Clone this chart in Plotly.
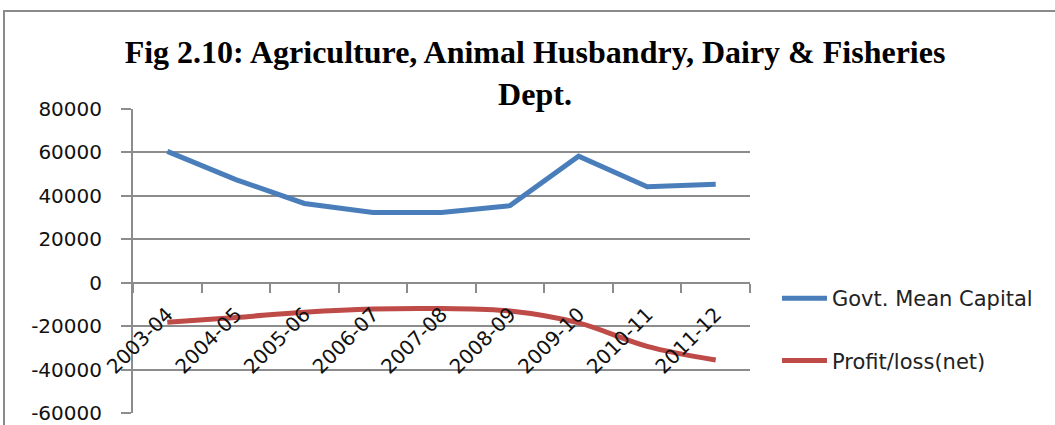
import plotly.graph_objects as go

years = ["2003-04", "2004-05", "2005-06", "2006-07", "2007-08",
         "2008-09", "2009-10", "2010-11", "2011-12"]
govt_mean_capital = [60500, 47500, 36500, 32300, 32300, 35500, 58300, 44200, 45300]
profit_loss_net = [-18200, -16000, -13600, -12100, -11900, -13000, -18500, -29300, -35600]

y_tick_vals = [-60000, -40000, -20000, 0, 20000, 40000, 60000, 80000]
y_tick_text = ["-60000", "-40000", "-20000", "0", "20000", "40000", "60000", "80000"]

title_text = "Fig 2.10: Agriculture, Animal Husbandry, Dairy & Fisheries<br>Dept."

W, H = 1055, 425
L, R, T, B = 133, 305, 109, 12
pw, ph = W - L - R, H - T - B
ymin, ymax = -60000, 80000

def px_x(p):
    return (p - L) / pw

def px_y(p):
    return (H - B - p) / ph

fig = go.Figure()
fig.add_trace(go.Scatter(
    x=years, y=govt_mean_capital, mode="lines", name="Govt. Mean Capital",
    line=dict(color="#4A7EBB", width=5), legendgroup="g1"))
fig.add_trace(go.Scatter(
    x=years, y=profit_loss_net, mode="lines", name="Profit/loss(net)",
    line=dict(color="#BE4B48", width=5, shape="spline", smoothing=1), legendgroup="g2"))

grid = "#8C8C8C"
fig.update_layout(
    width=W, height=H,
    margin=dict(l=L, r=R, t=T, b=B, pad=0, autoexpand=False),
    paper_bgcolor="white", plot_bgcolor="white",
    title=dict(text=title_text, xref="container", yref="container",
               x=535 / W, xanchor="center", y=1 - 63 / H, yanchor="top",
               font=dict(family="Liberation Serif", size=32, color="black", weight=700)),
    xaxis=dict(type="category", range=[-0.5, 8.5], anchor="free", automargin=False,
               position=(0 - ymin) / (ymax - ymin),
               showline=True, linecolor=grid, linewidth=2,
               ticks="outside", tickson="boundaries", ticklen=9, tickwidth=2, tickcolor=grid,
               showgrid=False, tickangle=-45, ticklabelstandoff=11,
               tickfont=dict(family="DejaVu Sans", size=20, color="#111111")),
    yaxis=dict(range=[ymin, ymax], tickvals=y_tick_vals, ticktext=y_tick_text,
               automargin=False,
               showline=True, linecolor=grid, linewidth=2,
               ticks="outside", ticklen=10, tickwidth=2, tickcolor=grid,
               showgrid=True, gridcolor=grid, gridwidth=2, zeroline=False,
               ticklabelstandoff=15,
               tickfont=dict(family="DejaVu Sans", size=20, color="#111111")),
    legend=dict(x=px_x(777), xanchor="left", y=px_y(278), yanchor="top",
                itemwidth=45, tracegroupgap=32, bgcolor="rgba(0,0,0,0)",
                font=dict(family="DejaVu Sans", size=21, color="#222222")),
    shapes=[dict(type="rect", xref="paper", yref="paper",
                 x0=px_x(4), x1=px_x(1062), y0=px_y(432), y1=px_y(11),
                 line=dict(color="#8A8A8A", width=2), layer="below")],
)

fig.write_html("out.html")
